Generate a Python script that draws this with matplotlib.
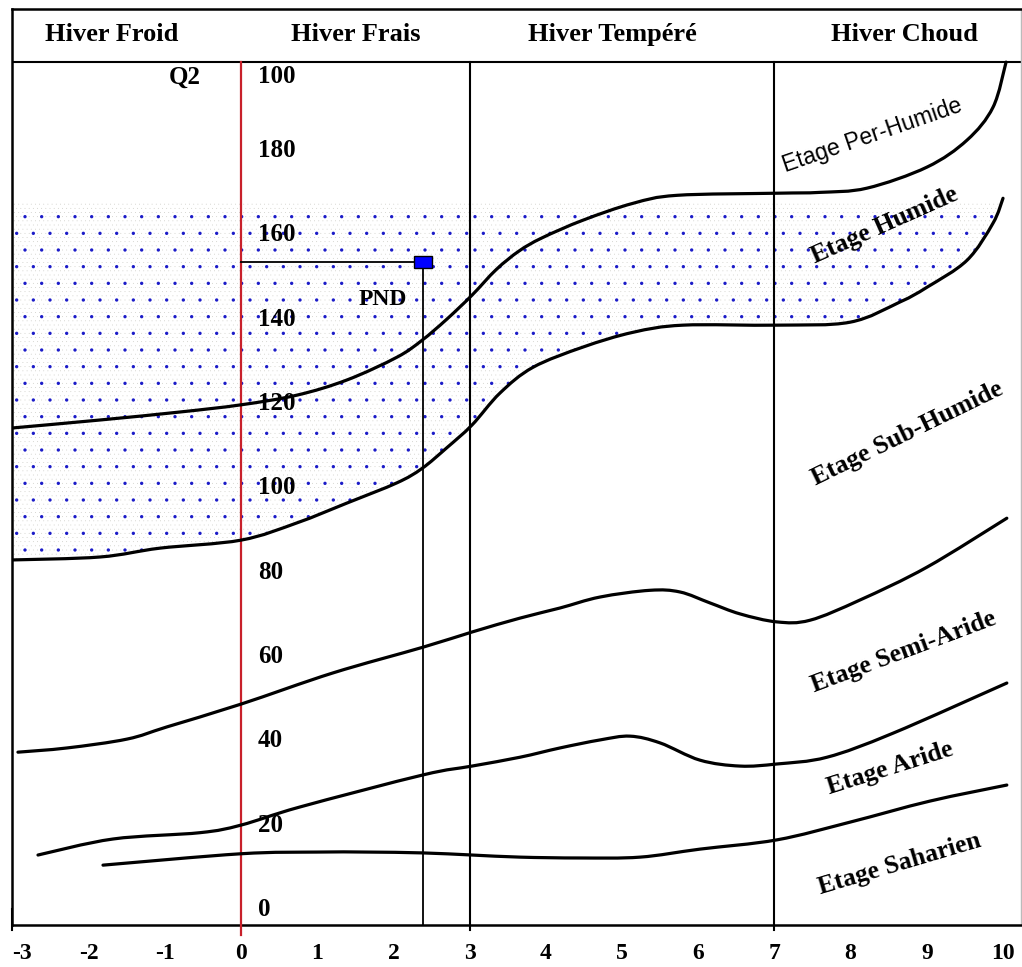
import numpy as np
import matplotlib
matplotlib.use('Agg')
import matplotlib.pyplot as plt
from matplotlib.patches import Rectangle, PathPatch
from matplotlib.path import Path

plt.rcParams['font.family'] = 'Liberation Serif'
plt.rcParams['hatch.linewidth'] = 0.0

# Emberger climagram: x = m (deg C), y = Q2
# limit between Per-Humide and Humide
ax_x = [-3.005, -1.85, -0.80, 0.0, 0.735, 1.391, 2.047, 2.375, 2.7, 3.031, 3.35, 3.65, 3.95,
        4.488, 5.144, 5.722, 7.034, 7.598, 8.215, 9.003, 9.528, 9.869, 10.04]
ax_y = [114.2, 116.1, 118.0, 119.7, 122.0, 125.6, 131.0, 135.0, 140.0, 145.7, 151.8, 156.2, 159.3,
        163.5, 167.5, 169.4, 169.9, 170.1, 171.1, 176.1, 182.5, 190.3, 201.0]
# limit between Humide and Sub-Humide
b_x = [-3.005, -1.85, -1.063, 0.0, 0.735, 1.391, 2.047, 2.375, 2.7, 3.031, 3.399, 3.832, 4.488,
       5.144, 5.801, 7.034, 7.992, 8.648, 9.003, 9.528, 9.869, 10.0]
b_y = [82.9, 83.6, 85.7, 87.6, 91.7, 96.4, 101.2, 104.6, 109.5, 114.9, 122.5, 128.6, 133.4,
       136.9, 138.6, 138.6, 139.3, 144.1, 147.6, 154.0, 162.8, 168.7]
# limit between Sub-Humide and Semi-Aride
c_x = [-2.927, -2.283, -1.496, -0.971, 0.0, 1.207, 2.388, 3.031, 3.661, 4.186, 4.711, 5.367,
       5.761, 6.155, 6.549, 7.034, 7.467, 8.123, 9.003, 10.05]
c_y = [37.3, 38.3, 40.4, 43.3, 48.7, 56.1, 62.2, 65.8, 69.1, 71.5, 74.1, 75.7,
       75.3, 72.7, 70.1, 68.2, 68.6, 73.4, 81.2, 92.8]
# limit between Semi-Aride and Aride
d_x = [-2.664, -1.68, -0.538, 0.0, 0.774, 2.388, 3.031, 3.661, 4.186, 4.711, 5.105, 5.499,
       6.024, 6.549, 7.034, 7.69, 8.556, 10.05]
d_y = [12.9, 16.7, 18.2, 20.0, 24.3, 31.9, 34.0, 36.1, 38.3, 40.2, 41.1, 39.5,
       35.4, 34.0, 34.5, 36.1, 41.8, 53.7]
# limit between Aride and Saharien
e_x = [-1.811, 0.0, 0.997, 1.654, 2.388, 3.031, 3.661, 4.449, 5.236, 6.024, 7.034, 7.992,
       9.042, 10.05]
e_y = [10.5, 13.2, 13.6, 13.6, 13.4, 12.9, 12.4, 12.2, 12.4, 14.3, 16.5, 20.7, 25.7, 29.5]

stipple_top = 167.6

# station
pnd_m = 2.39
pnd_q2 = 153.6

x_ticks = list(range(-3, 11))
y_ticks = [0, 20, 40, 60, 80, 100, 120, 140, 160, 180, 197.5]
y_labels = ['0', '20', '40', '60', '80', '100', '120', '140', '160', '180', '100']

winters = ['Hiver Froid', 'Hiver Frais', 'Hiver Tempéré', 'Hiver Choud']
winter_x = [-1.7, 1.5, 4.88, 8.7]
limits_m = [0, 3, 7]

etages = ['Etage Per-Humide', 'Etage Humide', 'Etage Sub-Humide', 'Etage Semi-Aride',
          'Etage Aride', 'Etage Saharien']
etage_x = [8.29, 8.45, 8.75, 8.70, 8.52, 8.64]
etage_y = [183.7, 162.3, 112.8, 61.0, 33.5, 10.8]
etage_rot = [19, 24, 26, 20.5, 17.5, 16.5]


def smooth_path(xs, ys):
    # Catmull-Rom through the points, written as cubic Bezier segments
    p = np.column_stack([xs, ys])
    verts = [p[0]]
    codes = [Path.MOVETO]
    for i in range(len(p) - 1):
        p0 = p[i - 1] if i > 0 else p[i]
        p3 = p[i + 2] if i + 2 < len(p) else p[i + 1]
        c1 = p[i] + (p[i + 1] - p0) / 6
        c2 = p[i + 1] - (p3 - p[i]) / 6
        verts += [c1, c2, p[i + 1]]
        codes += [Path.CURVE4] * 3
    return Path(verts, codes)


fig = plt.figure(figsize=(10.22, 9.67), dpi=100)
ax = fig.add_axes([12/1022, 1-925/967, (1021-12)/1022, (925-9)/967])
ax.set_xlim(-3.005, 10.236)
ax.set_ylim(-3.7, 213.6)

# stippled zone above the Humide lower limit
bx = np.array(b_x)
by = np.array(b_y)
ax.fill_between(bx, by, stipple_top, where=by < stipple_top, interpolate=True,
                facecolor='none', edgecolor='#b8b8b0', hatch='....', linewidth=0)
ax.fill_between(bx, by, stipple_top, where=by < stipple_top, interpolate=True,
                facecolor='none', edgecolor='#1c1cc8', hatch='.', linewidth=0)

# boundary curves
for xs, ys in [(ax_x, ax_y), (b_x, b_y), (c_x, c_y), (d_x, d_y), (e_x, e_y)]:
    ax.add_patch(PathPatch(smooth_path(xs, ys), facecolor='none', edgecolor='black',
                           lw=2.3, capstyle='round', zorder=4))

# header row
ax.axhline(201.0, color='black', lw=1.5)
for t, x in zip(winters, winter_x):
    ax.text(x, 207.6, t, ha='center', va='center', fontsize=19, fontweight='bold')

# winter limits
ax.plot([0, 0], [-6, 201], color='#c8202a', lw=1.6, clip_on=False, zorder=3)
for m in limits_m[1:]:
    ax.plot([m, m], [-5, 201], color='black', lw=1.5, clip_on=False, zorder=3)
ax.plot([-3.005, -3.005], [-5, 0], color='black', lw=1.5, clip_on=False)

# station PND
ax.plot([0, pnd_m], [pnd_q2, pnd_q2], color='black', lw=1.3, zorder=3)
ax.plot([pnd_m, pnd_m], [-3.7, pnd_q2], color='black', lw=1.3, zorder=3)
ax.add_patch(Rectangle((pnd_m - 0.118, pnd_q2 - 1.5), 0.236, 3.0, facecolor='#0000ff',
                       edgecolor='black', lw=1, zorder=5))
ax.text(1.86, 144.6, 'PND', ha='center', va='center', fontsize=17, fontweight='bold')

# Q2 axis labels
ax.text(-0.735, 197.4, 'Q2', ha='center', va='center', fontsize=18, fontweight='bold')
for v, lab in zip(y_ticks, y_labels):
    ax.text(0.22, v, lab, ha='left', va='center', fontsize=18, fontweight='bold')

# bioclimatic stages
for i, (t, x, y, r) in enumerate(zip(etages, etage_x, etage_y, etage_rot)):
    if i == 0:
        ax.text(x, y, t, ha='center', va='center', rotation=r, rotation_mode='anchor',
                fontsize=16.5, family='Liberation Sans')
    else:
        ax.text(x, y, t, ha='center', va='center', rotation=r, rotation_mode='anchor',
                fontsize=18.5, fontweight='bold')

# m axis labels
ax.set_xticks([])
for v in x_ticks:
    ax.text(v, -10.5, str(v), ha='left' if v == -3 else 'center', va='center',
            fontsize=17, fontweight='bold')
ax.set_yticks([])
for s in ['left', 'bottom', 'top']:
    ax.spines[s].set_linewidth(1.8)
ax.spines['right'].set_color('#bbbbbb')
ax.spines['right'].set_linewidth(1)

fig.savefig('out.png', dpi=100)
